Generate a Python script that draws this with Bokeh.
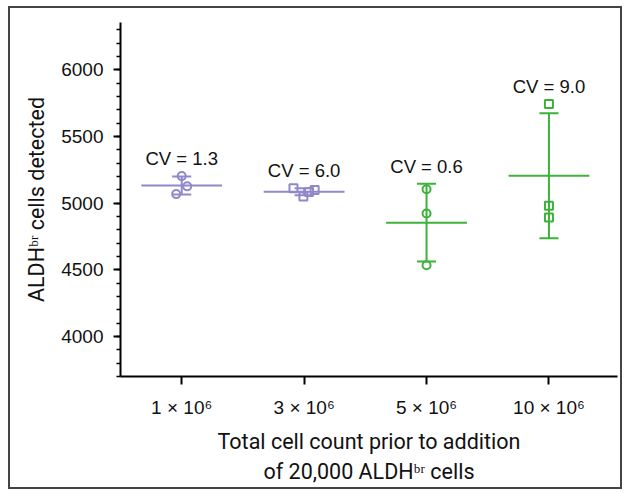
import numpy as np
from bokeh.plotting import figure
from bokeh.models import FixedTicker, ColumnDataSource, Range1d
from bokeh.embed import file_html
from bokeh.resources import INLINE

# ---- data ----
x_labels = ["1 × 10⁶", "3 × 10⁶", "5 × 10⁶", "10 × 10⁶"]
cv_labels = ["CV = 1.3", "CV = 6.0", "CV = 0.6", "CV = 9.0"]
g1_vals = [5203, 5126, 5068]
g2_vals = [5111, 5050, 5083, 5098]
g3_vals = [5105, 4923, 4534]
g4_vals = [5744, 4980, 4893]
g1_jit = [0.0, 0.045, -0.045]
g2_jit = [-0.087, -0.006, 0.04, 0.086]
g3_jit = [0.0, 0.0, 0.0]
g4_jit = [0.0, 0.0, 0.0]

groups = [g1_vals, g2_vals, g3_vals, g4_vals]
jits = [g1_jit, g2_jit, g3_jit, g4_jit]
markers = ["circle", "square", "circle", "square"]
PURPLE = "#9088c8"
GREEN = "#3cb23a"
colors = [PURPLE, PURPLE, GREEN, GREEN]

FONT = "Liberation Sans"
TFONT = "Roboto"

p = figure(width=614, height=483, output_backend="svg", toolbar_location=None,
           x_range=Range1d(0.5, 4.56), y_range=Range1d(3700, 6355),
           min_border_left=110, min_border_top=14, min_border_right=7,
           min_border_bottom=115)
p.styles = {"border": "2px solid #444",
            "margin-left": "8px", "margin-top": "6px"}
p.outline_line_color = None
p.grid.grid_line_color = None

for i, (vals, jit) in enumerate(zip(groups, jits)):
    xc = i + 1
    v = np.array(vals, dtype=float)
    m = v.mean()
    sd = v.std(ddof=1)
    c = colors[i]
    p.segment(x0=[xc - 0.33], y0=[m], x1=[xc + 0.33], y1=[m], line_color=c, line_width=2)
    p.segment(x0=[xc], y0=[m - sd], x1=[xc], y1=[m + sd], line_color=c, line_width=2)
    p.segment(x0=[xc - 0.078, xc - 0.078], y0=[m - sd, m + sd],
              x1=[xc + 0.078, xc + 0.078], y1=[m - sd, m + sd], line_color=c, line_width=2)
    src = ColumnDataSource(dict(x=[xc + j for j in jit], y=vals))
    p.scatter("x", "y", source=src, marker=markers[i], size=8, line_color=c,
              line_width=2, fill_alpha=0)
    top = max(m + sd, v.max())
    p.text(x=[xc], y=[top], text=[cv_labels[i]], text_align="center",
           text_baseline="bottom", y_offset=-7, text_font_size="18.5px",
           text_color="#111", text_font={"value": FONT})

p.xaxis.ticker = FixedTicker(ticks=[1, 2, 3, 4])
p.xaxis.major_label_overrides = {i + 1: lab for i, lab in enumerate(x_labels)}
p.xaxis.minor_tick_line_color = None
p.xaxis.major_tick_out = 8
p.xaxis.major_tick_in = 0
p.xaxis.axis_label = "Total cell count prior to addition\nof 20,000 ALDHᵇʳ cells"

p.yaxis.ticker = FixedTicker(ticks=[4000, 4500, 5000, 5500, 6000],
                             minor_ticks=list(range(3700, 6400, 100)))
p.yaxis.major_tick_out = 7
p.yaxis.major_tick_in = 0
p.yaxis.minor_tick_out = 4
p.yaxis.minor_tick_in = 0
p.yaxis.axis_label = "ALDHᵇʳ cells detected"

for ax in (p.xaxis, p.yaxis):
    ax.axis_line_width = 2
    ax.axis_line_color = "black"
    ax.major_tick_line_width = 2
    ax.minor_tick_line_width = 1.5
    ax.major_tick_line_color = "black"
    ax.major_label_text_font = FONT
    ax.major_label_text_font_size = "19px"
    ax.major_label_text_color = "#111"
    ax.axis_label_text_font = TFONT
    ax.axis_label_text_font_size = "21.5px"
    ax.axis_label_text_font_style = "normal"
    ax.axis_label_text_color = "#111"

p.xaxis.major_label_standoff = 12
p.xaxis.axis_label_standoff = 8
p.yaxis.major_label_standoff = 10
p.yaxis.axis_label_standoff = 9

open("out.html", "w").write(file_html(p, INLINE))
